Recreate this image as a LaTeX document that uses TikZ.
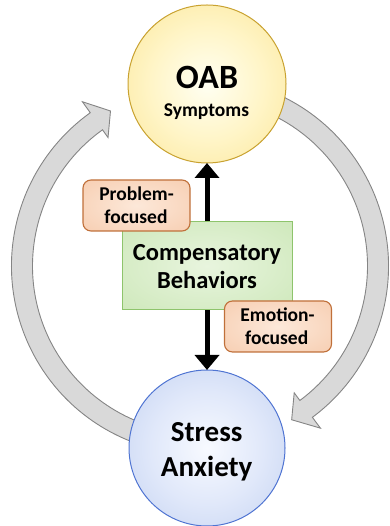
\documentclass[tikz,border=0pt]{standalone}
\usepackage{fontspec}
\setmainfont{Carlito}
\usetikzlibrary{arrows.meta}

\pgfdeclareradialshading{oabshade}{\pgfpoint{0bp}{0bp}}{rgb(0bp)=(1,1,0.95); rgb(18bp)=(1,0.96,0.78); rgb(50bp)=(0.97,0.86,0.46); rgb(75bp)=(0.97,0.86,0.46)}
\pgfdeclareradialshading{stressshade}{\pgfpoint{0bp}{0bp}}{rgb(0bp)=(0.97,0.98,1); rgb(18bp)=(0.88,0.91,0.98); rgb(50bp)=(0.68,0.76,0.92); rgb(75bp)=(0.68,0.76,0.92)}
\pgfdeclareradialshading{greenshade}{\pgfpoint{0bp}{0bp}}{rgb(0bp)=(0.91,0.96,0.87); rgb(50bp)=(0.77,0.89,0.68); rgb(75bp)=(0.77,0.89,0.68)}
\pgfdeclareradialshading{orangeshade}{\pgfpoint{0bp}{0bp}}{rgb(0bp)=(0.99,0.91,0.85); rgb(50bp)=(0.96,0.77,0.64); rgb(75bp)=(0.96,0.77,0.64)}

\definecolor{oabborder}{HTML}{C9A230}
\definecolor{stressborder}{HTML}{4F74D2}
\definecolor{greenborder}{HTML}{8EC46C}
\definecolor{orangeborder}{HTML}{C0703A}
\definecolor{arrowfill}{HTML}{D9D9D9}
\definecolor{arrowborder}{HTML}{858585}

\tikzset{
  cyclearrow/.style={fill=arrowfill, draw=arrowborder, line width=0.9pt, line join=miter},
  bigcircle/.style={circle, inner sep=0pt, outer sep=0pt, line width=1pt},
  tagbox/.style={rectangle, rounded corners=8pt, minimum width=107pt, minimum height=51pt,
    draw=orangeborder, line width=1.1pt, shading=orangeshade, inner sep=0pt, outer sep=0pt},
  blackarrow/.style={line width=5pt, -{Triangle[width=24pt,length=15pt]}},
  lbl/.style={anchor=base, inner sep=0pt},
}

\begin{document}
\begin{tikzpicture}[x=1pt, y=1pt]
\useasboundingbox (0,0) rectangle (389,526);

% cycle arrows
\draw[cyclearrow, shift={(200,260)}]
  (250:188.5) arc[start angle=250, end angle=125.6, radius=188.5]
  -- (125.6:202) -- (120:179) -- (125.6:158) -- (125.6:167.5)
  arc[start angle=125.6, end angle=250, radius=167.5] -- cycle;
\draw[cyclearrow, shift={(200,260)}]
  (66:188.5) arc[start angle=66, end angle=-53.4, radius=188.5]
  -- (-53.4:202) -- (-59.2:179) -- (-53.4:158) -- (-53.4:167.5)
  arc[start angle=-53.4, end angle=66, radius=167.5] -- cycle;

% circles
\node[bigcircle, minimum size=158pt, draw=oabborder, shading=oabshade] (oab) at (207,442) {};
\node[bigcircle, minimum size=156pt, draw=stressborder, shading=stressshade] (stress) at (207,78) {};

% central box and arrows
\coordinate (cbtop) at (207,304);
\coordinate (cbbot) at (207,216);
\draw[blackarrow] (cbtop) -- (oab.south);
\draw[blackarrow] (cbbot) -- (stress.north);
\node[rectangle, minimum width=170pt, minimum height=88pt, draw=greenborder, line width=1pt,
  shading=greenshade, inner sep=0pt, outer sep=0pt] (cb) at (207,260) {};

\node[tagbox] (pf) at (136.5,320.5) {};
\node[tagbox] (ef) at (278,199.5) {};

% texts
\node[lbl, font=\bfseries\fontsize{34}{34}\selectfont] (toab) at (207,437.7) {OAB};
\node[lbl, font=\bfseries\fontsize{19.5}{20}\selectfont] (tsym) at (206.5,409.3) {Symptoms};
\node[lbl, font=\bfseries\fontsize{24.5}{25}\selectfont] (tcomp) at (207,265.3) {Compensatory};
\node[lbl, font=\bfseries\fontsize{24.5}{25}\selectfont] (tbeh) at (207,237) {Behaviors};
\node[lbl, font=\bfseries\fontsize{19.5}{20}\selectfont] (tprob) at (136.5,325.3) {Problem-};
\node[lbl, font=\bfseries\fontsize{19.5}{20}\selectfont] (tpfoc) at (136,302.7) {focused};
\node[lbl, font=\bfseries\fontsize{19.5}{20}\selectfont] (temo) at (277.5,204.3) {Emotion-};
\node[lbl, font=\bfseries\fontsize{19.5}{20}\selectfont] (tefoc) at (276.7,181) {focused};
\node[lbl, font=\bfseries\fontsize{29}{29}\selectfont] (tstress) at (206.7,84.3) {Stress};
\node[lbl, font=\bfseries\fontsize{29}{29}\selectfont] (tanx) at (206.7,49.3) {Anxiety};
\end{tikzpicture}
\end{document}
